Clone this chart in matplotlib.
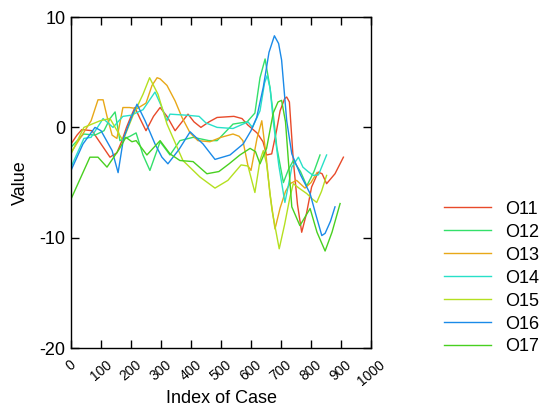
import matplotlib
matplotlib.use("Agg")
import matplotlib.pyplot as plt

labels = ["O11", "O12", "O13", "O14", "O15", "O16", "O17"]
colors = ["#e84a2a", "#33e06a", "#e8a818", "#28e0c8", "#b4e020", "#1a8ae8", "#48d020"]

o11_x = [0, 20, 36, 70, 100, 130, 153, 170, 185, 200, 213, 230, 250, 275, 297, 320, 347, 370, 390, 410, 433, 460, 487, 543, 570, 590, 620, 640, 652, 669, 685, 697, 712, 719, 728, 741, 755, 769, 785, 802, 824, 837, 852, 880, 908]
o11_y = [-1.5, -0.7, -0.2, -0.3, -1.5, -2.7, -2.3, -1.2, 0.0, 1.0, 1.8, 0.8, -0.3, 1.0, 1.8, 1.0, -0.3, 0.5, 1.2, 0.5, 0.0, 0.5, 0.9, 1.0, 0.8, 0.2, -0.5, -1.3, -2.5, -2.4, -0.3, 1.5, 2.6, 2.75, 2.3, -3.0, -7.0, -9.5, -7.8, -5.4, -4.05, -4.2, -5.1, -4.2, -2.7]

o12_x = [0, 42, 80, 110, 130, 147, 163, 197, 217, 240, 263, 297, 330, 363, 407, 460, 487, 540, 587, 600, 613, 630, 647, 663, 675, 686, 708, 725, 741, 765, 786, 810, 830]
o12_y = [-1.8, -0.6, -0.7, -0.3, 0.8, 1.4, -1.2, -0.8, -0.5, -2.5, -3.9, -1.3, -2.5, -1.2, -0.9, -1.2, -1.2, 0.3, 0.5, 0.9, 1.3, 4.5, 6.2, 3.65, 1.0, -1.8, -5.0, -3.8, -3.0, -4.0, -5.3, -4.0, -2.5]

o13_x = [0, 30, 67, 90, 107, 120, 137, 153, 173, 195, 220, 250, 270, 287, 297, 320, 347, 370, 397, 423, 463, 500, 540, 560, 573, 590, 600, 620, 636, 650, 663, 680, 697, 715, 730, 752, 780, 800, 820]
o13_y = [-2.3, -1.0, 0.6, 2.5, 2.5, 1.0, -0.7, -1.0, 1.8, 1.8, 1.7, 2.2, 3.8, 4.5, 4.4, 3.8, 2.4, 0.9, -0.5, -1.2, -1.3, -0.9, -0.6, -0.8, -1.2, -3.5, -3.9, -1.0, 0.6, -2.5, -6.0, -9.2, -7.3, -5.8, -5.1, -4.8, -5.5, -5.0, -4.1]

o14_x = [0, 43, 67, 107, 140, 173, 200, 240, 280, 300, 320, 330, 387, 427, 450, 487, 540, 590, 605, 630, 645, 654, 664, 674, 693, 713, 725, 736, 758, 773, 790, 807, 825, 852]
o14_y = [-3.6, -1.0, -0.9, 0.8, 0.0, 1.0, 1.1, 1.6, 3.2, 2.0, 0.6, 1.2, 1.1, 1.0, 0.4, 0.0, -0.1, 0.5, 0.0, 1.5, 4.0, 4.7, 3.5, 0.6, -3.5, -6.8, -5.2, -3.6, -2.7, -3.6, -4.0, -4.35, -4.3, -2.5]

o15_x = [0, 43, 97, 130, 173, 207, 240, 262, 290, 320, 373, 430, 480, 523, 567, 590, 613, 630, 641, 652, 670, 694, 712, 730, 741, 760, 786, 805, 819, 835, 852]
o15_y = [-2.4, 0.0, 0.6, 0.8, -1.2, 1.1, 3.0, 4.5, 3.0, 0.3, -3.0, -4.5, -5.5, -4.8, -3.4, -3.5, -5.9, -3.0, -2.1, -3.3, -7.5, -11.0, -8.8, -6.3, -5.1, -5.5, -6.0, -6.5, -6.8, -5.8, -4.35]

o16_x = [0, 40, 80, 100, 137, 157, 175, 200, 220, 247, 280, 303, 323, 360, 397, 440, 480, 530, 574, 600, 619, 641, 660, 678, 692, 702, 719, 736, 765, 797, 815, 836, 847, 865, 880]
o16_y = [-3.9, -1.5, 0.0, -0.3, -2.1, -4.1, -1.0, 0.8, 2.1, 0.6, -1.5, -2.7, -3.3, -2.0, -0.4, -1.5, -2.9, -2.5, -1.5, -0.3, 0.9, 3.65, 6.8, 8.3, 7.6, 6.1, 0.6, -2.4, -4.3, -6.0, -7.8, -9.8, -9.6, -8.5, -7.2]

o17_x = [0, 63, 90, 120, 160, 183, 203, 217, 253, 297, 330, 363, 407, 453, 493, 527, 563, 597, 615, 630, 652, 674, 690, 702, 715, 736, 763, 797, 820, 847, 870, 897]
o17_y = [-6.5, -2.7, -2.7, -3.6, -2.0, -0.9, -1.3, -1.2, -2.5, -1.2, -2.4, -3.0, -3.1, -4.2, -4.0, -3.3, -2.5, -1.9, -2.2, -3.3, -1.9, 1.3, 2.3, 2.45, 0.5, -7.2, -8.9, -7.35, -9.5, -11.2, -9.5, -6.9]

series_x = [o11_x, o12_x, o13_x, o14_x, o15_x, o16_x, o17_x]
series_y = [o11_y, o12_y, o13_y, o14_y, o15_y, o16_y, o17_y]

xticks = [0, 100, 200, 300, 400, 500, 600, 700, 800, 900, 1000]
yticks = [-20, -10, 0, 10]

plt.rcParams['font.family'] = ['Liberation Sans', 'DejaVu Sans']

fig = plt.figure(figsize=(5.42, 4.12), dpi=100)
ax = fig.add_axes([0.131, 0.155, 0.5535, 0.8037])

for xs, ys, c, lab in zip(series_x, series_y, colors, labels):
    ax.plot(xs, ys, color=c, lw=1.0, label=lab)

ax.set_xlim(0, 1000)
ax.set_ylim(-20, 10)
ax.set_xticks(xticks)
ax.set_xticklabels([str(t) for t in xticks], rotation=40, ha='center', va='top', fontsize=10)
ax.set_yticks(yticks)
ax.set_yticklabels([str(t) for t in yticks], fontsize=13)
ax.tick_params(direction='in', length=6, top=True, right=True, width=1)
ax.tick_params(axis='x', pad=7)
ax.tick_params(axis='y', pad=4)
for s in ax.spines.values():
    s.set_linewidth(1.0)
ax.set_xlabel("Index of Case", fontsize=13)
ax.xaxis.set_label_coords(0.5, -0.151)
ax.xaxis.label.set_va('center')
ax.set_ylabel("Value", fontsize=13)
ax.yaxis.set_label_coords(-0.168, 0.5)
ax.yaxis.label.set_va('center')

h, l = ax.get_legend_handles_labels()
fig.legend(h, l, loc='center left', bbox_to_anchor=(0.82, 0.325), frameon=False,
           fontsize=13, handlelength=2.6, handletextpad=0.75, labelspacing=0.33,
           borderpad=0, borderaxespad=0)

fig.savefig("out.png", dpi=100)
